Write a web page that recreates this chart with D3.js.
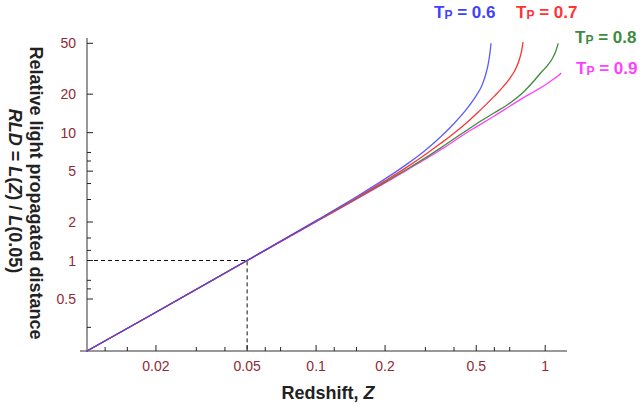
<!doctype html>
<html>
<head>
<meta charset="utf-8">
<script src="https://cdnjs.cloudflare.com/ajax/libs/d3/7.8.5/d3.min.js"></script>
<style>
  body { margin: 0; background: white; }
  svg { font-family: "Liberation Sans", Arial, sans-serif; }
  .tick-label { fill: #8e2a35; font-size: 14px; }
  .title { font-weight: bold; font-size: 18px; fill: #222; }
  .curve { fill: none; stroke-width: 1.3px; }
  .axis-line { stroke: #333; stroke-width: 1px; }
  .tick { stroke: #222; stroke-width: 1px; }
  .guide { stroke: #111; stroke-width: 1px; stroke-dasharray: 4,3; fill: none; }
</style>
</head>
<body>
<svg width="640" height="405"></svg>
<script>
// tick values
var xMajor = [0.02, 0.05, 0.1, 0.2, 0.5, 1];
var xMinor = [0.012, 0.015, 0.03, 0.04, 0.06, 0.07, 0.12, 0.15, 0.3, 0.4, 0.6, 0.7];
var yMajor = [0.5, 1, 2, 5, 10, 20, 50];
var yMinor = [0.3, 0.6, 0.7, 1.2, 1.5, 3, 4, 6, 7];

// series (Z, RLD)
var tp = ["0.9", "0.8", "0.7", "0.6"];
var colors = ["#ff40ff", "#3d8c3d", "#ff3333", "#4040ff"];

var z09 = [0.01, 0.02, 0.05, 0.1, 0.15, 0.2, 0.25, 0.3, 0.35, 0.4, 0.45, 0.5, 0.6, 0.7, 0.8, 0.9, 1.0, 1.1, 1.14, 1.175];
var r09 = [0.196, 0.394, 1.0, 2.01, 3.02, 4.05, 5.12, 6.2, 7.35, 8.6, 9.9, 11.1, 13.5, 16.1, 18.7, 21.1, 23.6, 26.6, 27.9, 29.3];

var z08 = [0.01, 0.02, 0.05, 0.1, 0.15, 0.2, 0.25, 0.3, 0.35, 0.4, 0.45, 0.5, 0.6, 0.7, 0.8, 0.9, 0.95, 1.0, 1.07, 1.11, 1.14];
var r08 = [0.196, 0.394, 1.0, 2.02, 3.05, 4.1, 5.2, 6.35, 7.6, 8.95, 10.3, 11.7, 14.3, 17.0, 20.6, 25.8, 29.0, 32.0, 37.5, 43, 50];

var z07 = [0.01, 0.02, 0.05, 0.1, 0.15, 0.2, 0.25, 0.3, 0.35, 0.4, 0.45, 0.5, 0.55, 0.6, 0.65, 0.7, 0.74, 0.77, 0.79, 0.8];
var r07 = [0.196, 0.394, 1.0, 2.03, 3.08, 4.2, 5.4, 6.75, 8.25, 9.9, 11.8, 14.0, 16.5, 19.3, 22.5, 26.5, 31, 37, 44, 51];

var z06 = [0.01, 0.02, 0.05, 0.1, 0.15, 0.2, 0.25, 0.3, 0.35, 0.4, 0.45, 0.5, 0.53, 0.55, 0.565, 0.575, 0.58];
var r06 = [0.196, 0.394, 1.0, 2.05, 3.15, 4.35, 5.7, 7.3, 9.3, 11.8, 15.0, 19.5, 23.5, 28.5, 35, 43, 50];

var zs = [z09, z08, z07, z06];
var rs = [r09, r08, r07, r06];

var svg = d3.select("svg");

var x = d3.scaleLog().domain([0.01, 1.245]).range([87, 567]);
var y = d3.scaleLog().domain([0.196, 55]).range([351, 38]);

// dashed guide at Z = 0.05, RLD = 1
svg.append("path").attr("class", "guide")
  .attr("d", "M" + x(0.01) + "," + y(1) + "H" + x(0.05) + "V" + y(0.196));

// axes
svg.append("line").attr("class", "axis-line")
  .attr("x1", x(0.01) - 7).attr("x2", x.range()[1])
  .attr("y1", y(0.196)).attr("y2", y(0.196));
svg.append("line").attr("class", "axis-line")
  .attr("x1", x(0.01)).attr("x2", x(0.01))
  .attr("y1", y.range()[1]).attr("y2", y(0.196) + 1);

svg.selectAll(".xmaj").data(xMajor).enter().append("line").attr("class", "tick")
  .attr("x1", d => x(d)).attr("x2", d => x(d))
  .attr("y1", y(0.196)).attr("y2", y(0.196) - 6);
svg.selectAll(".xmin").data(xMinor).enter().append("line").attr("class", "tick")
  .attr("x1", d => x(d)).attr("x2", d => x(d))
  .attr("y1", y(0.196)).attr("y2", y(0.196) - 4);
svg.selectAll(".xlab").data(xMajor).enter().append("text").attr("class", "tick-label")
  .attr("x", d => x(d)).attr("y", 371)
  .attr("text-anchor", "middle")
  .text(d => d);

svg.selectAll(".ymaj").data(yMajor).enter().append("line").attr("class", "tick")
  .attr("x1", x(0.01)).attr("x2", x(0.01) + 6)
  .attr("y1", d => y(d)).attr("y2", d => y(d));
svg.selectAll(".ymin").data(yMinor).enter().append("line").attr("class", "tick")
  .attr("x1", x(0.01)).attr("x2", x(0.01) + 4)
  .attr("y1", d => y(d)).attr("y2", d => y(d));
svg.selectAll(".ylab").data(yMajor).enter().append("text").attr("class", "tick-label")
  .attr("x", x(0.01) - 11).attr("y", d => y(d) + 5)
  .attr("text-anchor", "end")
  .text(d => d);

// curves
var line = d3.line().x(d => x(d[0])).y(d => y(d[1])).curve(d3.curveMonotoneX);
zs.forEach(function (zz, i) {
  svg.append("path").attr("class", "curve")
    .attr("stroke", colors[i])
    .attr("stroke-opacity", i == 3 ? 0.85 : 1)
    .attr("d", line(zz.map((v, j) => [v, rs[i][j]])));
});

// curve labels
var labelPos = [[576, 74], [575, 43], [516, 18], [434, 18]];
tp.forEach(function (t, i) {
  var lab = svg.append("text")
    .attr("x", labelPos[i][0]).attr("y", labelPos[i][1])
    .attr("fill", colors[i])
    .attr("font-weight", "bold").attr("font-size", "17px");
  lab.append("tspan").text("T");
  lab.append("tspan").attr("font-size", "12px").attr("dy", 1).text("P");
  lab.append("tspan").attr("dy", -1).text(" = " + t);
});

// axis titles
var xt = svg.append("text").attr("class", "title")
  .attr("x", 328).attr("y", 399).attr("text-anchor", "middle");
xt.append("tspan").text("Redshift, ");
xt.append("tspan").attr("font-style", "italic").text("Z");

svg.append("text").attr("class", "title")
  .attr("transform", "translate(30,193) rotate(90)")
  .attr("text-anchor", "middle")
  .text("Relative light propagated distance");

var yt = svg.append("text").attr("class", "title")
  .attr("transform", "translate(9,191) rotate(90)")
  .attr("text-anchor", "middle");
yt.append("tspan").attr("font-style", "italic").text("RLD");
yt.append("tspan").text(" = ");
yt.append("tspan").attr("font-style", "italic").text("L");
yt.append("tspan").text("(");
yt.append("tspan").attr("font-style", "italic").text("Z");
yt.append("tspan").text(") / ");
yt.append("tspan").attr("font-style", "italic").text("L");
yt.append("tspan").text("(0.05)");
</script>
</body>
</html>
